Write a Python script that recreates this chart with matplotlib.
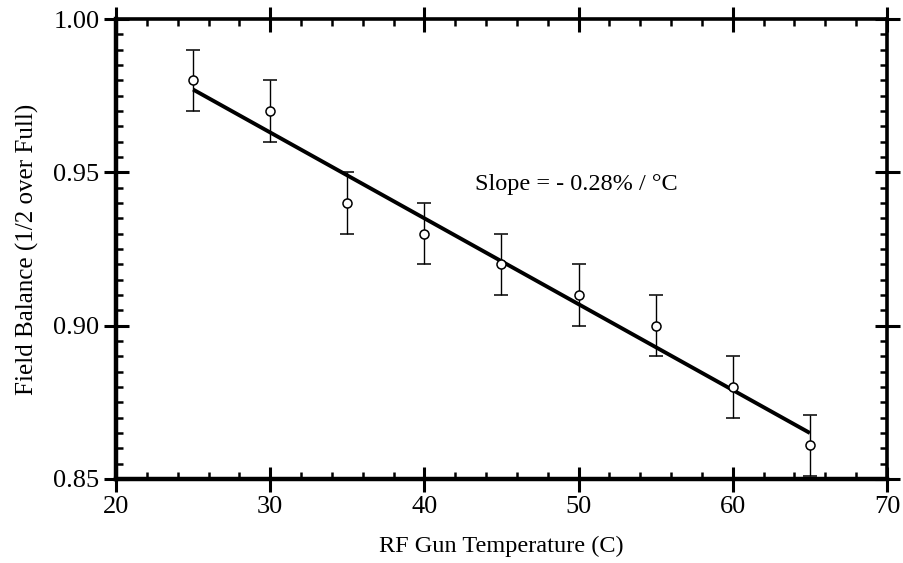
import matplotlib
matplotlib.use('Agg')
import matplotlib.pyplot as plt
from matplotlib.ticker import MultipleLocator, FormatStrFormatter

# data
temps = [25, 30, 35, 40, 45, 50, 55, 60, 65]
balance = [0.980, 0.970, 0.940, 0.930, 0.920, 0.910, 0.900, 0.880, 0.861]
errors = [0.010] * 9
fit_x = [25, 65]
fit_y = [0.977, 0.865]

plt.rcParams['font.family'] = ['Liberation Serif', 'DejaVu Serif']

fig = plt.figure(figsize=(9.04, 5.63), dpi=100)
ax = fig.add_axes([116 / 904, 1 - 479 / 563, (887 - 116) / 904, (479 - 19) / 563])

ax.plot(fit_x, fit_y, color='black', lw=2.8, solid_capstyle='butt', zorder=2)
ax.errorbar(temps, balance, yerr=errors, fmt='o', ms=6.5, mfc='white', mec='black',
            mew=1.1, ecolor='black', elinewidth=1.0, capsize=5, capthick=1.0, zorder=3)

ax.text(0.465, 0.628, 'Slope = - 0.28% / °C', transform=ax.transAxes, fontsize=17.5,
        va='baseline')

ax.set_xlim(20, 70)
ax.set_ylim(0.85, 1.00)
ax.xaxis.set_major_locator(MultipleLocator(10))
ax.xaxis.set_minor_locator(MultipleLocator(2))
ax.yaxis.set_major_locator(MultipleLocator(0.05))
ax.yaxis.set_minor_locator(MultipleLocator(0.005))
ax.yaxis.set_major_formatter(FormatStrFormatter('%.2f'))

ax.tick_params(which='major', direction='inout', length=18, width=2.2,
               top=True, right=True, labelsize=19, pad=3, color='black')
ax.tick_params(which='minor', direction='in', length=5, width=1.8,
               top=True, right=True)

for side in ['left', 'bottom']:
    ax.spines[side].set_linewidth(3.2)
for side in ['top', 'right']:
    ax.spines[side].set_linewidth(2.6)

ax.set_xlabel('RF Gun Temperature (C)', fontsize=17.5, labelpad=13)
ax.set_ylabel('Field Balance (1/2 over Full)', fontsize=18, labelpad=10)

plt.savefig('out.png', dpi=100)
